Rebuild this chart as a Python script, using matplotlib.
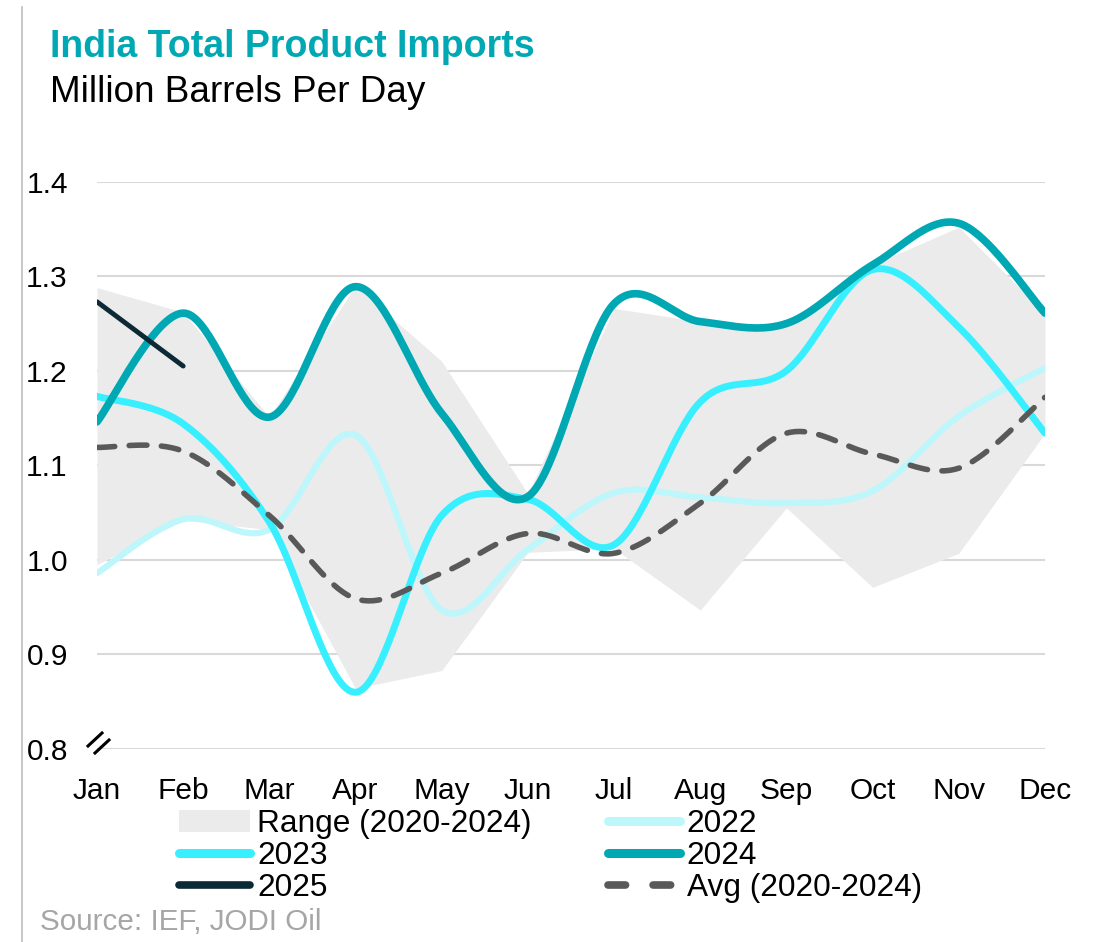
import numpy as np
import matplotlib
matplotlib.use("Agg")
import matplotlib.pyplot as plt
from matplotlib.lines import Line2D
from matplotlib.patches import Patch

plt.rcParams['font.family'] = ['Liberation Sans', 'DejaVu Sans']

months = ["Jan", "Feb", "Mar", "Apr", "May", "Jun", "Jul", "Aug", "Sep", "Oct", "Nov", "Dec"]
range_hi = [1.288, 1.262, 1.151, 1.290, 1.210, 1.070, 1.266, 1.252, 1.248, 1.312, 1.352, 1.261]
range_lo = [0.995, 1.042, 1.032, 0.864, 0.883, 1.008, 1.012, 0.947, 1.055, 0.971, 1.007, 1.134]
y2022 = [0.986, 1.043, 1.032, 1.132, 0.947, 1.011, 1.071, 1.066, 1.060, 1.073, 1.152, 1.203]
y2023 = [1.173, 1.144, 1.040, 0.860, 1.047, 1.064, 1.016, 1.167, 1.200, 1.307, 1.246, 1.134]
y2024 = [1.146, 1.261, 1.151, 1.289, 1.155, 1.067, 1.271, 1.252, 1.250, 1.312, 1.356, 1.261]
y2025 = [1.273, 1.205]
avg = [1.119, 1.115, 1.047, 0.959, 0.986, 1.028, 1.007, 1.060, 1.134, 1.112, 1.097, 1.172]
yticks = [0.8, 0.9, 1.0, 1.1, 1.2, 1.3, 1.4]

C_RANGE = "#EBEBEB"
C22 = "#BDF7FB"
C23 = "#38EFFF"
C24 = "#00A8B3"
C25 = "#0B2A36"
CAVG = "#595959"


def smooth(vals, n=40):
    """Catmull-Rom style smoothing (Excel-like smoothed line)."""
    y = np.asarray(vals, float)
    x = np.arange(len(y), dtype=float)
    if len(y) < 3:
        return x, y
    P = np.column_stack([x, y])
    ext = np.vstack([P[0], P, P[-1]])
    xs, ys = [], []
    t = np.linspace(0, 1, n)
    for i in range(len(P) - 1):
        p0, p1, p2, p3 = ext[i], ext[i + 1], ext[i + 2], ext[i + 3]
        c1 = p1 + (p2 - p0) / 6.0
        c2 = p2 - (p3 - p1) / 6.0
        b = ((1 - t) ** 3)[:, None] * p1 + (3 * (1 - t) ** 2 * t)[:, None] * c1 \
            + (3 * (1 - t) * t ** 2)[:, None] * c2 + (t ** 3)[:, None] * p2
        if i > 0:
            b = b[1:]
        xs.append(b[:, 0]); ys.append(b[:, 1])
    return np.concatenate(xs), np.concatenate(ys)


W, H = 1099, 942
fig = plt.figure(figsize=(W / 100, H / 100), dpi=100)
ax = fig.add_axes([97 / W, 1 - 749 / H, (1045 - 97) / W, (749 - 181.7) / H])

x = np.arange(len(months))
ax.fill_between(x, range_lo, range_hi, color=C_RANGE, lw=0, zorder=1)

for vals, c, lw in [(y2022, C22, 4.5), (y2023, C23, 5.0), (y2024, C24, 5.5)]:
    sx, sy = smooth(vals)
    ax.plot(sx, sy, color=c, lw=lw, solid_capstyle='round', zorder=3)
ax.plot(np.arange(len(y2025)), y2025, color=C25, lw=3.5, solid_capstyle='round', zorder=4)
sx, sy = smooth(avg)
ax.plot(sx, sy, color=CAVG, lw=4, dashes=(3.2, 2.6), dash_capstyle='round', zorder=5)

ax.set_xlim(0, 11)
ax.set_ylim(0.8, 1.4)
ax.set_yticks(yticks)
ax.set_yticklabels([f"{v:.1f}" for v in yticks])
ax.set_xticks(x)
ax.set_xticklabels(months)
ax.tick_params(axis='both', length=0, labelsize=21.5, colors='black')
ax.tick_params(axis='y', pad=21)
ax.tick_params(axis='x', pad=20)
for s in ax.spines.values():
    s.set_visible(False)
ax.grid(axis='y', color='#D9D9D9', lw=1.5, zorder=0)
ax.set_axisbelow(True)
ax.set_facecolor('none')

# axis break marker
fig.add_artist(Line2D([88 / W, 102 / W], [1 - 746 / H, 1 - 733 / H], color='black', lw=2.2))
fig.add_artist(Line2D([95 / W, 109 / W], [1 - 753 / H, 1 - 740 / H], color='black', lw=2.2))

# left border line
fig.add_artist(Line2D([22 / W, 22 / W], [0, 1 - 7 / H], color='#BFBFBF', lw=1.2))

fig.text(50 / W, 1 - 47 / H, "India Total Product Imports", color="#00A8B3",
         fontsize=27, fontweight='bold', va='center', ha='left')
fig.text(50 / W, 1 - 92 / H, "Million Barrels Per Day", color="black",
         fontsize=26.6, va='center', ha='left')
fig.text(40 / W, 1 - 922 / H, "Source: IEF, JODI Oil", color="#A6A6A6",
         fontsize=21.3, va='center', ha='left')

h_range = Patch(facecolor=C_RANGE, edgecolor='none', label="Range (2020-2024)")
h22 = Line2D([], [], color=C22, lw=6.5, solid_capstyle='round', label="2022")
h23 = Line2D([], [], color=C23, lw=6.5, solid_capstyle='round', label="2023")
h24 = Line2D([], [], color=C24, lw=6.5, solid_capstyle='round', label="2024")
h25 = Line2D([], [], color=C25, lw=5.5, solid_capstyle='round', label="2025")
havg = Line2D([], [], color=CAVG, lw=5.5, dashes=(2.3, 3.6), dash_capstyle='round', label="Avg (2020-2024)")
handles = [h_range, h23, h25, h22, h24, havg]
leg = fig.legend(handles=handles, ncol=2, loc='upper left',
                 bbox_to_anchor=(179 / W, 1 - 809 / H), frameon=False,
                 fontsize=22.8, borderpad=0, borderaxespad=0, handlelength=2.25,
                 handletextpad=0.22, columnspacing=2.42, labelspacing=0.06)

fig.savefig("out.png", dpi=100)
